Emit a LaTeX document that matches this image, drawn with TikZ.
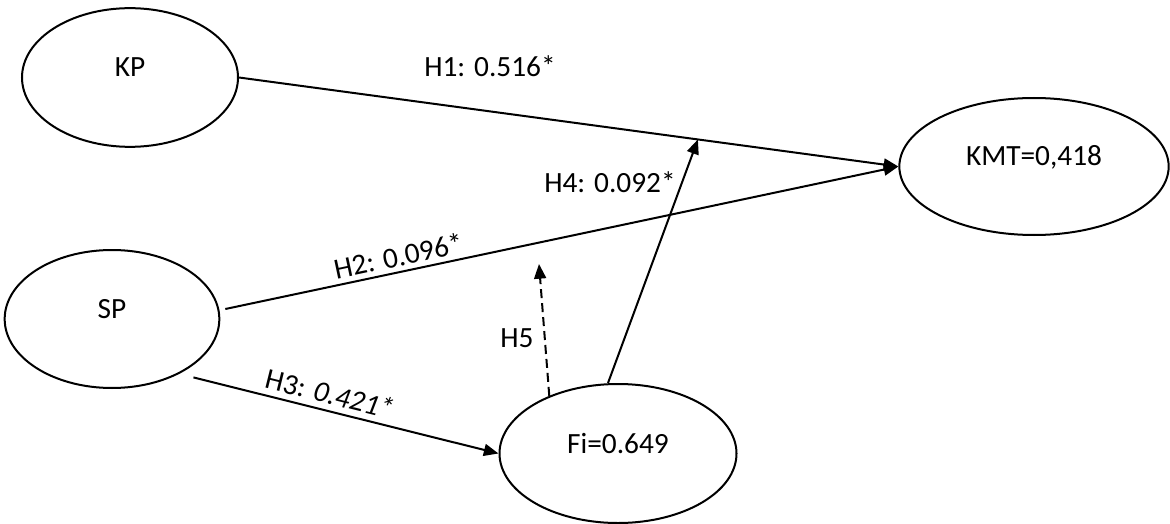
\documentclass[tikz,border=0pt]{standalone}
\usepackage{fontspec}
\setmainfont{Carlito}
\usetikzlibrary{shapes.geometric,arrows.meta}
\tikzset{
  latent/.style={draw, ellipse, line width=1.5pt, inner sep=0pt},
  hyp/.style={line width=1.5pt, -{Triangle[length=11pt,width=9pt]}},
}
\begin{document}
\begin{tikzpicture}[x=0.75pt, y=-0.75pt, font=\fontsize{22}{26}\selectfont]
    \useasboundingbox (0,0) rectangle (1170,524);

    % constructs
    \node[latent, minimum width=162pt, minimum height=104pt,
      label={[yshift=7.5pt]center:KP}] (kp) at (130,77.5) {};
    \node[latent, minimum width=161pt, minimum height=103.5pt,
      label={[yshift=7.5pt]center:SP}] (sp) at (112,319) {};
    \node[latent, minimum width=202pt, minimum height=102.75pt,
      label={[yshift=6.5pt]center:KMT=0,418}] (kmt) at (1034,166.5) {};
    \node[latent, minimum width=177.75pt, minimum height=104.25pt,
      label={[yshift=7.5pt]center:Fi=0.649}] (fi) at (618,453.5) {};

    % paths
    \draw[hyp] (kp.east) -- (kmt.west) coordinate[pos=0.696] (h1mid);
    \draw[hyp] ([shift={(5,-10)}]sp.east) -- (kmt.west)
      node[sloped, above, pos=0.262] (h2lbl) {H2: 0.096*};
    \draw[hyp] ([shift={(8,7)}]sp.-35) -- (fi.west)
      node[sloped, above=1pt, pos=0.433] (h3lbl) {H3: \textit{0.421*}};
    \draw[hyp] ([shift={(-10,0)}]fi.north) -- (h1mid);
    \coordinate (h5end) at (539,264);
    \draw[hyp, dash pattern=on 6.75pt off 3.75pt] (fi.140) -- (h5end);

    \node (h1lbl) at (490,66) {H1: 0.516*};
    \node (h4lbl) at (610,182) {H4: 0.092*};
    \node (h5lbl) at (517,338) {H5};
\end{tikzpicture}
\end{document}
